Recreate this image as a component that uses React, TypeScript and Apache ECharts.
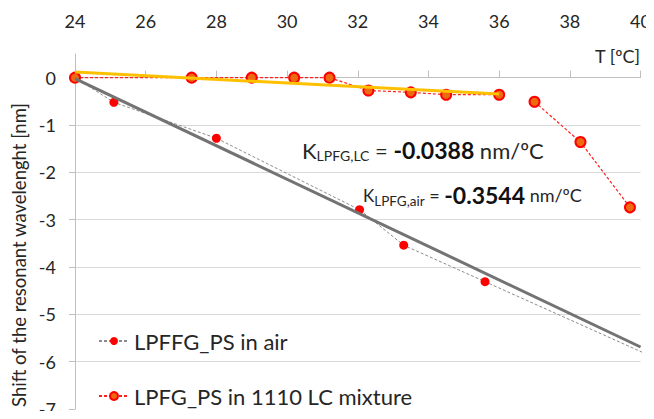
import React, { useEffect, useRef } from "react";
import * as echarts from "echarts";

// ---- data ----
const xTicks = [24, 26, 28, 30, 32, 34, 36, 38, 40];
const yTicks = [0, -1, -2, -3, -4, -5, -6, -7];

const airName = "LPFFG_PS in air";
const airX = [24, 25.1, 28.0, 32.05, 33.3, 35.6, 41.0];
const airY = [0, -0.52, -1.28, -2.79, -3.54, -4.31, -6.12];

const lcName = "LPFG_PS in 1110 LC mixture";
const lcX = [24, 27.3, 29.0, 30.2, 31.2, 32.3, 33.5, 34.5, 36.0, 37.0, 38.3, 39.7];
const lcY = [0, 0, 0, 0, 0, -0.27, -0.31, -0.36, -0.36, -0.51, -1.36, -2.74];
const lcBreakAfter = 8; // no connecting line between 36 and 37

const airFitX = [24, 40];
const airFitY = [-0.02, -5.69];
const lcFitX = [24, 36];
const lcFitY = [0.12, -0.345];

const yTitle = "Shift of the resonant wavelenght [nm]";
const xTitle = "T [ºC]";

const FONT = "Lato";
const TXT = "#262626";

export default function App() {
  const ref = useRef<HTMLDivElement>(null);
  useEffect(() => {
    if (!ref.current) return;
    const chart = echarts.init(ref.current, undefined, { renderer: "svg" });

    const airData = airX.map((x, i) => [x, airY[i]]);
    const lcData: any[] = [];
    lcX.forEach((x, i) => {
      lcData.push([x, lcY[i]]);
      if (i === lcBreakAfter) lcData.push(["-", "-"]);
    });
    const airFit = airFitX.map((x, i) => [x, airFitY[i]]);
    const lcFit = lcFitX.map((x, i) => [x, lcFitY[i]]);

    const option: any = {
      animation: false,
      backgroundColor: "#fff",
      grid: { left: 75, right: 12, top: 54, bottom: 10, containLabel: false },
      xAxis: [
        {
          type: "value",
          position: "top",
          min: xTicks[0],
          max: xTicks[xTicks.length - 1],
          interval: 2,
          axisLine: { show: false, onZero: false },
          axisTick: { show: false },
          splitLine: { show: false },
          axisLabel: { margin: 24, fontSize: 18, fontFamily: FONT, color: TXT },
        },
        {
          type: "value",
          position: "top",
          min: xTicks[0],
          max: xTicks[xTicks.length - 1],
          interval: 2,
          axisLine: { show: true, onZero: true, lineStyle: { color: "#bfbfbf", width: 1 } },
          axisTick: { show: true, inside: false, length: 7, lineStyle: { color: "#bfbfbf" } },
          splitLine: { show: false },
          axisLabel: { show: false },
        },
      ],
      yAxis: {
        type: "value",
        min: -7,
        max: 0.5,
        interval: 1,
        axisLine: { show: true, onZero: false, lineStyle: { color: "#bfbfbf" } },
        axisTick: { show: true, length: 6, lineStyle: { color: "#bfbfbf" }, customValues: yTicks },
        splitLine: { show: true, showMaxLine: false, lineStyle: { color: "#d9d9d9" } },
        axisLabel: {
          margin: 19,
          fontSize: 18,
          fontFamily: FONT,
          color: TXT,
          customValues: yTicks,
          formatter: (v: number) => (v > 0 ? "" : String(v)),
        },
      },
      legend: {
        orient: "vertical",
        left: 98,
        top: 329,
        padding: 0,
        itemWidth: 30,
        itemHeight: 10,
        itemGap: 31,
        textStyle: { fontSize: 22, fontFamily: FONT, color: TXT, lineHeight: 24 },
        data: [airName, lcName],
      },
      graphic: [
        {
          type: "text",
          x: 19,
          y: 255,
          rotation: Math.PI / 2,
          style: {
            text: yTitle,
            align: "center",
            verticalAlign: "middle",
            fontSize: 18.5,
            fontFamily: FONT,
            fill: TXT,
          },
        },
        {
          type: "text",
          x: 640,
          y: 56,
          style: {
            text: xTitle,
            align: "right",
            verticalAlign: "middle",
            fontSize: 18,
            fontFamily: FONT,
            fill: TXT,
          },
        },
        {
          type: "text",
          x: 302,
          y: 150,
          style: {
            text: "{k|K}{s|LPFG,LC}{n| = }{b|-0.0388}{n| nm/ºC}",
            align: "left",
            verticalAlign: "middle",
            rich: {
              k: { fontSize: 22, fontFamily: FONT, fill: TXT },
              s: { fontSize: 14, fontFamily: FONT, fill: TXT, padding: [11, 0, 0, 0] },
              n: { fontSize: 22, fontFamily: FONT, fill: TXT },
              b: { fontSize: 23, fontFamily: FONT, fontWeight: "bold", fill: "#111" },
            },
          },
        },
        {
          type: "text",
          x: 363,
          y: 195,
          style: {
            text: "{k|K}{s|LPFG,air}{n| = }{b|-0.3544}{n| nm/ºC}",
            align: "left",
            verticalAlign: "middle",
            rich: {
              k: { fontSize: 17, fontFamily: FONT, fill: TXT },
              s: { fontSize: 13.5, fontFamily: FONT, fill: TXT, padding: [11, 0, 0, 0] },
              n: { fontSize: 18, fontFamily: FONT, fill: TXT },
              b: { fontSize: 23, fontFamily: FONT, fontWeight: "bold", fill: "#111" },
            },
          },
        },
      ],
      series: [
        {
          name: airName,
          type: "line",
          data: airData,
          symbol: "circle",
          symbolSize: 9,
          itemStyle: { color: "#ff0000", borderWidth: 0 },
          lineStyle: { color: "#8c8c8c", width: 1, type: [3, 2] },
          z: 3,
        },
        {
          name: lcName,
          type: "line",
          data: lcData,
          symbol: "circle",
          symbolSize: 10,
          connectNulls: false,
          itemStyle: { color: "#ee6a10", borderColor: "#ff0000", borderWidth: 2 },
          lineStyle: { color: "#ff2020", width: 1.2, type: [3, 2] },
          z: 4,
        },
        {
          name: "airFit",
          type: "line",
          data: airFit,
          symbol: "none",
          lineStyle: { color: "#737373", width: 3 },
          z: 5,
        },
        {
          name: "lcFit",
          type: "line",
          data: lcFit,
          symbol: "none",
          clip: false,
          lineStyle: { color: "#ffc000", width: 3 },
          z: 5,
        },
      ],
    };
    chart.setOption(option);
    return () => chart.dispose();
  }, []);

  return (
    <div style={{ width: 654, height: 419, margin: -8 }}>
      <div ref={ref} style={{ width: 654, height: 419 }} />
    </div>
  );
}
